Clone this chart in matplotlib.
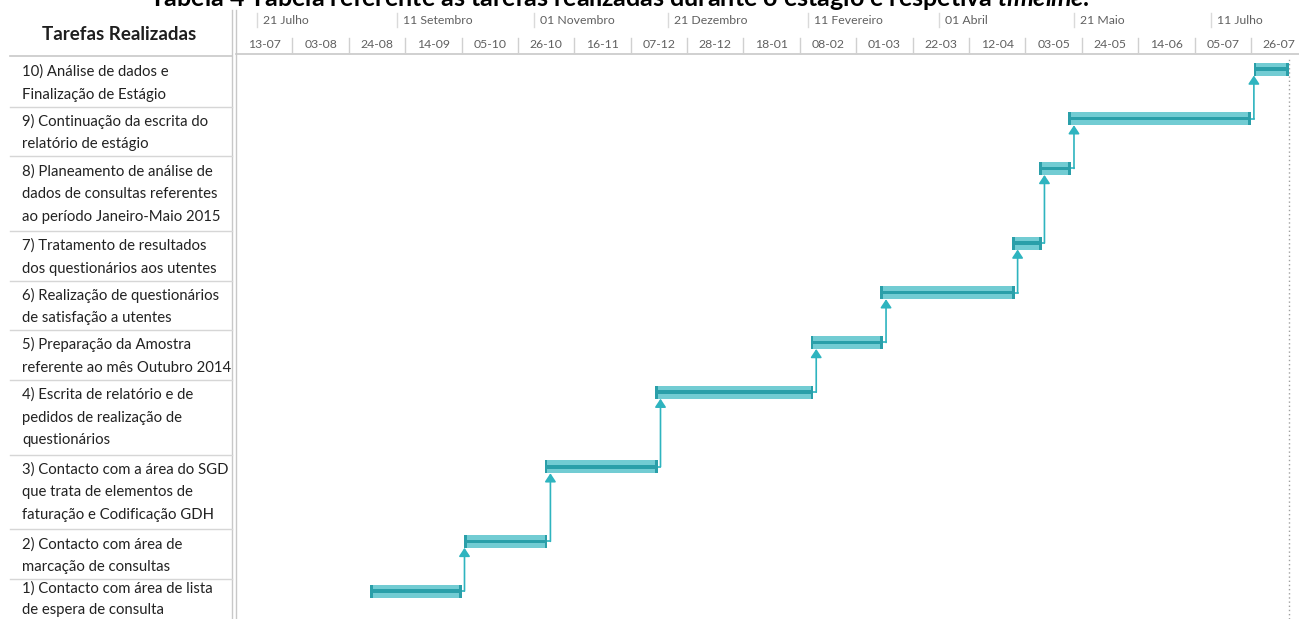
import matplotlib.pyplot as plt
import matplotlib.dates as mdates
from datetime import date

plt.rcParams['font.family'] = 'Lato'
plt.rcParams['mathtext.fontset'] = 'custom'
plt.rcParams['mathtext.it'] = 'Lato:italic:bold'

W, H = 1299, 619

# tarefas do estágio (1 a 10) com datas de início e fim
tarefas = [
    "1) Contacto com área de lista\nde espera de consulta",
    "2) Contacto com área de\nmarcação de consultas",
    "3) Contacto com a área do SGD\nque trata de elementos de\nfaturação e Codificação GDH",
    "4) Escrita de relatório e de\npedidos de realização de\nquestionários",
    "5) Preparação da Amostra\nreferente ao mês Outubro 2014",
    "6) Realização de questionários\nde satisfação a utentes",
    "7) Tratamento de resultados\ndos questionários aos utentes",
    "8) Planeamento de análise de\ndados de consultas referentes\nao período Janeiro-Maio 2015",
    "9) Continuação da escrita do\nrelatório de estágio",
    "10) Análise de dados e\nFinalização de Estágio",
]
inicio = ['2014-09-01', '2014-10-06', '2014-11-05', '2014-12-16', '2015-02-12',
          '2015-03-10', '2015-04-28', '2015-05-08', '2015-05-19', '2015-07-27']
fim = ['2014-10-04', '2014-11-05', '2014-12-16', '2015-02-12', '2015-03-10',
       '2015-04-28', '2015-05-08', '2015-05-19', '2015-07-25', '2015-08-08']

# escala temporal: semanas (nível inferior) e marcos (nível superior)
semanas = ['2014-07-13', '2014-08-03', '2014-08-24', '2014-09-14', '2014-10-05',
           '2014-10-26', '2014-11-16', '2014-12-07', '2014-12-28', '2015-01-18',
           '2015-02-08', '2015-03-01', '2015-03-22', '2015-04-12', '2015-05-03',
           '2015-05-24', '2015-06-14', '2015-07-05', '2015-07-26']
marcos = ['2014-07-21', '2014-09-11', '2014-11-01', '2014-12-21',
          '2015-02-11', '2015-04-01', '2015-05-21', '2015-07-11']
marcos_txt = ['21 Julho', '11 Setembro', '01 Novembro', '21 Dezembro',
              '11 Fevereiro', '01 Abril', '21 Maio', '11 Julho']

titulo = ('Tabela 4 Tabela referente às tarefas realizadas durante o estágio '
          'e respetiva $\\mathit{timeline}$.')


def d2n(s):
    return mdates.date2num(date.fromisoformat(s))


FILL = '#72CCD3'
DARK = '#2A9FA9'
LINK = '#2EB4BF'
GRID = '#D6D6D6'
GREY = '#606060'

LEFT = 236      # início da área do gráfico (px)
TOP = 57        # fim do cabeçalho (px)
LINE = 24.86    # altura de uma linha de texto (px)
PX_DAY = 2.685  # px por dia

fig = plt.figure(figsize=(W / 100, H / 100), dpi=100)

# fundo em coordenadas de pixel: tabela e molduras
bg = fig.add_axes([0, 0, 1, 1])
bg.set_xlim(0, W)
bg.set_ylim(H, 0)
bg.axis('off')

fig.text(619 / W, 1 - 6 / H, titulo, ha='center', va='baseline',
         fontsize=18, fontweight='bold', color='black')

bg.text(119, 35, 'Tarefas Realizadas', ha='center', va='center',
        fontsize=13.5, fontweight='bold', color='#1f1f1f')
bg.plot([232, 232], [10, H], color='#C8C8C8', lw=1)
bg.plot([236, 236], [10, H], color='#C8C8C8', lw=1)
bg.plot([10, 232], [56, 56], color='#C8C8C8', lw=1.2)
bg.plot([236, W], [54, 54], color='#C8C8C8', lw=1.2)

# linhas da tabela
n_linhas = [t.count('\n') + 1 for t in tarefas]
topos = {}
y = TOP
for i in range(len(tarefas) - 1, -1, -1):
    topos[i] = y
    y += n_linhas[i] * LINE
for i, t in enumerate(tarefas):
    y0 = topos[i]
    if i != len(tarefas) - 1:
        bg.plot([10, 232], [y0, y0], color=GRID, lw=1)
    linhas = t.split('\n')
    passo = 22.6
    base = y0 + 19
    if base + passo * (len(linhas) - 1) > H - 5:
        # última linha da tabela fica junto ao limite inferior
        passo = 21
        base = H - 5 - passo * (len(linhas) - 1)
    for j, linha in enumerate(linhas):
        bg.text(22, base + passo * j, linha, ha='left', va='baseline',
                fontsize=10.7, color='#222222')

# cabeçalho da escala temporal
x0 = d2n(semanas[0])
x1 = x0 + (W - LEFT) / PX_DAY
hx = fig.add_axes([LEFT / W, 1 - TOP / H, 1 - LEFT / W, TOP / H])
hx.set_xlim(x0, x1)
hx.set_ylim(TOP, 0)
hx.axis('off')
for s in semanas:
    xs = d2n(s)
    if s != semanas[0]:
        hx.plot([xs, xs], [38, 53], color='#D0D0D0', lw=1)
    hx.text(xs + 10.5, 44, date.fromisoformat(s).strftime('%d-%m'),
            ha='center', va='center', fontsize=8.8, color=GREY)
for s, lbl in zip(marcos, marcos_txt):
    xs = d2n(s)
    hx.plot([xs, xs], [13, 27], color='#DADADA', lw=1)
    hx.annotate(lbl, (xs, 20), xytext=(4.3, 0), textcoords='offset points',
                ha='left', va='center', fontsize=8.8, color=GREY)

# gráfico de Gantt
ax = fig.add_axes([LEFT / W, 0, 1 - LEFT / W, 1 - TOP / H])
ax.set_xlim(x0, x1)
ax.set_ylim(H, TOP)
ax.patch.set_alpha(0)
ax.axis('off')

bar_h = 13
cap = 1.0
centros = []
for i in range(len(tarefas)):
    a = d2n(inicio[i])
    b = d2n(fim[i]) + 1
    yc = topos[i] + 12
    centros.append(yc)
    ax.barh(yc, b - a, left=a, height=bar_h, color=FILL, lw=0, zorder=3)
    ax.barh(yc, b - a, left=a, height=3.5, color=DARK, lw=0, zorder=4)
    ax.barh(yc, cap, left=a, height=bar_h, color=DARK, lw=0, zorder=4)
    ax.barh(yc, cap, left=b - cap, height=bar_h, color=DARK, lw=0, zorder=4)

# ligações entre tarefas consecutivas
for i in range(len(tarefas) - 1):
    b = d2n(fim[i]) + 1
    a_next = d2n(inicio[i + 1])
    xc = max(b + 1.1, a_next)
    ax.plot([b, xc], [centros[i], centros[i]], color=LINK, lw=1.2, zorder=2)
    ax.annotate('', xy=(xc, centros[i + 1] + bar_h / 2),
                xytext=(xc, centros[i]),
                arrowprops=dict(arrowstyle='-|>,head_length=0.5,head_width=0.33',
                                color=LINK, lw=1.2, shrinkA=0, shrinkB=0),
                zorder=2)

# linha de fim do projeto
ax.axvline(d2n(fim[-1]) + 1, color='#A0A0A0', ls=(0, (1, 2)), lw=1, zorder=1)

fig.savefig('out.png', dpi=100)
